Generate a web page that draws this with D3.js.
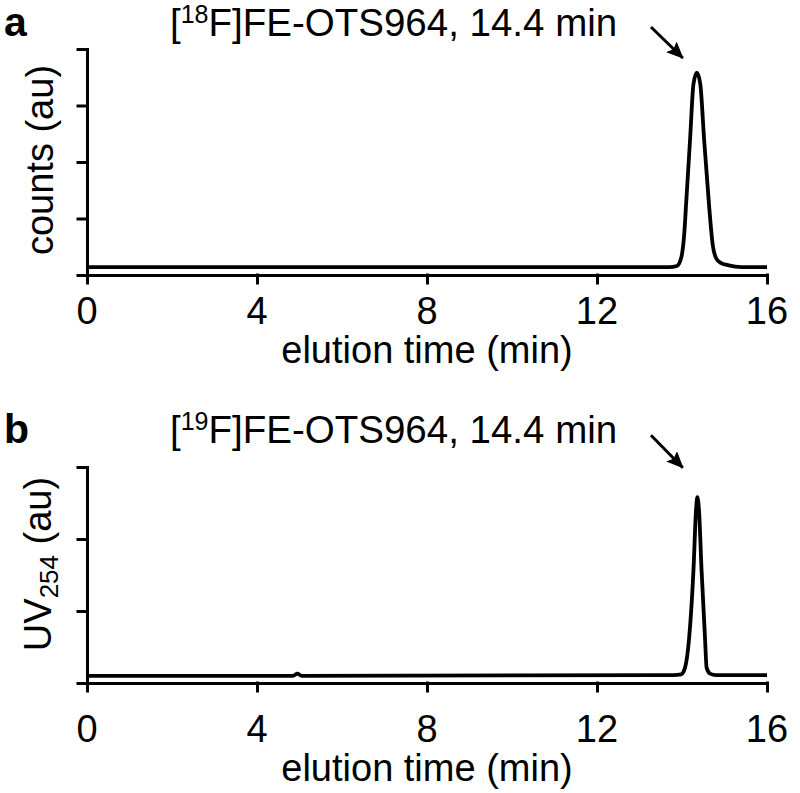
<!DOCTYPE html>
<html>
<head>
<meta charset="utf-8">
<script src="https://cdn.jsdelivr.net/npm/d3@7"></script>
<style>
  body { margin: 0; background: #fff; }
  text { font-family: "Liberation Sans", Arial, sans-serif; fill: #000; }
</style>
</head>
<body>
<div id="viz"></div>
<script>
// x axis (elution time, min)
const xTicks = [0, 4, 8, 12, 16];

// panel a: radio trace (counts, au)
const timeA   = [0, 13.7, 13.88, 13.98, 14.05, 14.1, 14.19, 14.27, 14.35, 14.43, 14.52, 14.64, 14.72, 14.8, 14.9, 15.1, 15.4, 16];
const countsA = [0.14, 0.14, 0.16, 0.3, 0.7, 1.3, 2.4, 3.38, 3.58, 3.38, 2.4, 1.2, 0.55, 0.3, 0.22, 0.17, 0.14, 0.14];
const yTicksA = [0, 1, 2, 3, 4];

// panel b: UV 254 trace (au)
const timeB = [0, 4.85, 4.95, 5.05, 13.8, 13.98, 14.07, 14.17, 14.27, 14.33, 14.36, 14.4, 14.46, 14.54, 14.58, 14.66, 14.8, 16];
const uvB   = [0.1, 0.1, 0.13, 0.1, 0.11, 0.12, 0.21, 0.64, 1.57, 2.4, 2.58, 2.4, 1.57, 0.64, 0.21, 0.13, 0.11, 0.11];
const yTicksB = [0, 1, 2, 3];

const width = 800;
const height = 793;

const svg = d3.select("#viz")
    .append("svg")
    .attr("width", width)
    .attr("height", height)
    .style("background-color", "#fff");

// arrow head
svg.append("defs")
    .append("marker")
    .attr("id", "head")
    .attr("markerUnits", "userSpaceOnUse")
    .attr("viewBox", "0 0 17 15")
    .attr("refX", 16)
    .attr("refY", 7.5)
    .attr("markerWidth", 17)
    .attr("markerHeight", 15)
    .attr("orient", "auto")
    .append("path")
    .attr("d", "M0,0 L17,7.5 L0,15 L3,7.5 Z")
    .attr("fill", "#000");

function drawPanel(p) {
    const x = d3.scaleLinear().domain([0, 16]).range([87, 767]);
    const y = d3.scaleLinear().domain(p.yDomain).range([p.bottom, p.top]);

    const g = svg.append("g");

    // axes
    const xAxis = g.append("g")
        .attr("transform", `translate(0,${p.bottom})`)
        .call(d3.axisBottom(x).tickValues(xTicks).tickSize(8).tickSizeOuter(0).tickFormat(""));
    const yAxis = g.append("g")
        .attr("transform", "translate(87,0)")
        .call(d3.axisLeft(y).tickValues(p.yTicks).tickSize(9).tickSizeOuter(0).tickFormat(""));
    [xAxis, yAxis].forEach(a => {
        a.selectAll("path, line").attr("stroke", "#000").attr("stroke-width", 3).attr("stroke-linecap", "square");
    });

    // tick labels
    g.selectAll(".xlab")
        .data(xTicks)
        .enter()
        .append("text")
        .attr("x", d => x(d))
        .attr("y", p.tickLabelY)
        .attr("text-anchor", "middle")
        .attr("font-size", 38)
        .text(d => d);

    g.append("text")
        .attr("x", x(8))
        .attr("y", p.xTitleY)
        .attr("text-anchor", "middle")
        .attr("font-size", 38)
        .text("elution time (min)");

    // y title
    const yt = g.append("text")
        .attr("transform", `translate(${p.yTitleX},${p.yTitleY}) rotate(-90)`)
        .attr("text-anchor", "middle")
        .attr("font-size", 38);
    p.yTitle(yt);

    // trace
    const line = d3.line()
        .x(d => x(d[0]))
        .y(d => y(d[1]))
        .curve(d3.curveMonotoneX);
    g.append("path")
        .attr("d", line(d3.zip(p.times, p.values)))
        .attr("fill", "none")
        .attr("stroke", "#000")
        .attr("stroke-width", 3.8)
        .attr("stroke-linejoin", "round");

    // annotation
    const t = g.append("text")
        .attr("x", 170)
        .attr("y", p.titleY)
        .attr("font-size", 38.5);
    t.append("tspan").text("[");
    t.append("tspan").attr("font-size", 25).attr("dy", -13).text(p.isotope);
    t.append("tspan").attr("dy", 13).text("F]FE-OTS964, 14.4 min");

    g.append("line")
        .attr("x1", x(p.arrow[0]))
        .attr("y1", y(p.arrow[1]))
        .attr("x2", x(p.arrow[2]))
        .attr("y2", y(p.arrow[3]))
        .attr("stroke", "#000")
        .attr("stroke-width", 3)
        .attr("marker-end", "url(#head)");

    // panel letter
    g.append("text")
        .attr("x", 4)
        .attr("y", p.titleY)
        .attr("font-family", "'Open Sans', sans-serif")
        .attr("font-weight", 700)
        .attr("font-size", 41)
        .text(p.letter);
}

drawPanel({
    letter: "a",
    isotope: "18",
    top: 49, bottom: 275,
    yDomain: [0, 4], yTicks: yTicksA,
    times: timeA, values: countsA,
    tickLabelY: 324, xTitleY: 363,
    yTitleX: 53, yTitleY: 160,
    titleY: 36,
    arrow: [13.27, 4.39, 14.02, 3.84],
    yTitle: t => t.text("counts (au)")
});

drawPanel({
    letter: "b",
    isotope: "19",
    top: 467, bottom: 683,
    yDomain: [0, 3], yTicks: yTicksB,
    times: timeB, values: uvB,
    tickLabelY: 742, xTitleY: 781,
    yTitleX: 51, yTitleY: 564,
    titleY: 443,
    arrow: [13.27, 3.44, 14.02, 2.99],
    yTitle: t => {
        t.append("tspan").text("UV");
        t.append("tspan").attr("font-size", 26).attr("dy", 7).text("254");
        t.append("tspan").attr("dy", -7).text(" (au)");
    }
});
</script>
</body>
</html>
